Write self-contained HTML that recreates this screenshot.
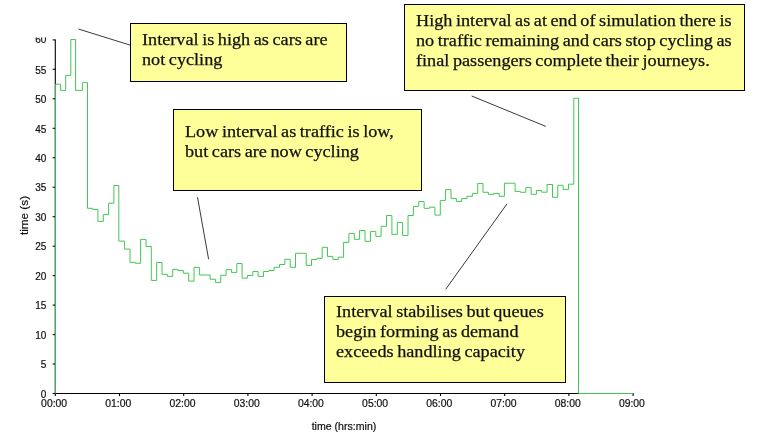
<!DOCTYPE html>
<html><head><meta charset="utf-8"><title>Interval chart</title>
<style>
html,body{margin:0;padding:0;background:#fff;}
body{width:765px;height:442px;position:relative;overflow:hidden;font-family:"Liberation Serif",serif;}
svg{position:absolute;left:0;top:0;}
svg text{font-family:"Liberation Sans",sans-serif;fill:#111;stroke:#111;stroke-width:0.2px;}
.ax{font-size:10px;}
.ay{font-size:10px;}
.xt{font-size:10px;}
.yt{font-size:10.5px;}
.box{position:absolute;box-sizing:border-box;background:#ffff99;border:1.2px solid #000;color:#111;font-size:16.5px;word-spacing:-0.9px;line-height:20px;white-space:nowrap;-webkit-text-stroke:0.25px #111;}
.box span{position:absolute;left:0;top:0;display:block;transform-origin:0 0;transform:scaleX(1.103);}
</style></head><body>
<svg width="765" height="442" viewBox="0 0 765 442">
<path d="M55.3,39.4 L55.3,393.5 L633.6,393.5" fill="none" stroke="#000" stroke-width="1.1"/>
<line x1="55.3" y1="393.5" x2="55.3" y2="396.1" stroke="#000" stroke-width="1.1"/>
<line x1="119.5" y1="393.5" x2="119.5" y2="396.1" stroke="#000" stroke-width="1.1"/>
<line x1="183.7" y1="393.5" x2="183.7" y2="396.1" stroke="#000" stroke-width="1.1"/>
<line x1="247.9" y1="393.5" x2="247.9" y2="396.1" stroke="#000" stroke-width="1.1"/>
<line x1="312.1" y1="393.5" x2="312.1" y2="396.1" stroke="#000" stroke-width="1.1"/>
<line x1="376.3" y1="393.5" x2="376.3" y2="396.1" stroke="#000" stroke-width="1.1"/>
<line x1="440.5" y1="393.5" x2="440.5" y2="396.1" stroke="#000" stroke-width="1.1"/>
<line x1="504.7" y1="393.5" x2="504.7" y2="396.1" stroke="#000" stroke-width="1.1"/>
<line x1="568.9" y1="393.5" x2="568.9" y2="396.1" stroke="#000" stroke-width="1.1"/>
<line x1="633.1" y1="393.5" x2="633.1" y2="396.1" stroke="#000" stroke-width="1.1"/>
<line x1="52.699999999999996" y1="393.5" x2="55.3" y2="393.5" stroke="#000" stroke-width="1.1"/>
<line x1="52.699999999999996" y1="364.0" x2="55.3" y2="364.0" stroke="#000" stroke-width="1.1"/>
<line x1="52.699999999999996" y1="334.6" x2="55.3" y2="334.6" stroke="#000" stroke-width="1.1"/>
<line x1="52.699999999999996" y1="305.1" x2="55.3" y2="305.1" stroke="#000" stroke-width="1.1"/>
<line x1="52.699999999999996" y1="275.6" x2="55.3" y2="275.6" stroke="#000" stroke-width="1.1"/>
<line x1="52.699999999999996" y1="246.2" x2="55.3" y2="246.2" stroke="#000" stroke-width="1.1"/>
<line x1="52.699999999999996" y1="216.7" x2="55.3" y2="216.7" stroke="#000" stroke-width="1.1"/>
<line x1="52.699999999999996" y1="187.2" x2="55.3" y2="187.2" stroke="#000" stroke-width="1.1"/>
<line x1="52.699999999999996" y1="157.7" x2="55.3" y2="157.7" stroke="#000" stroke-width="1.1"/>
<line x1="52.699999999999996" y1="128.3" x2="55.3" y2="128.3" stroke="#000" stroke-width="1.1"/>
<line x1="52.699999999999996" y1="98.8" x2="55.3" y2="98.8" stroke="#000" stroke-width="1.1"/>
<line x1="52.699999999999996" y1="69.3" x2="55.3" y2="69.3" stroke="#000" stroke-width="1.1"/>
<line x1="52.699999999999996" y1="39.9" x2="55.3" y2="39.9" stroke="#000" stroke-width="1.1"/>
<text class="ax" transform="translate(54.1,406.8) scale(1.04,1)" text-anchor="middle">00:00</text>
<text class="ax" transform="translate(118.3,406.8) scale(1.04,1)" text-anchor="middle">01:00</text>
<text class="ax" transform="translate(182.5,406.8) scale(1.04,1)" text-anchor="middle">02:00</text>
<text class="ax" transform="translate(246.7,406.8) scale(1.04,1)" text-anchor="middle">03:00</text>
<text class="ax" transform="translate(310.9,406.8) scale(1.04,1)" text-anchor="middle">04:00</text>
<text class="ax" transform="translate(375.1,406.8) scale(1.04,1)" text-anchor="middle">05:00</text>
<text class="ax" transform="translate(439.3,406.8) scale(1.04,1)" text-anchor="middle">06:00</text>
<text class="ax" transform="translate(503.5,406.8) scale(1.04,1)" text-anchor="middle">07:00</text>
<text class="ax" transform="translate(567.7,406.8) scale(1.04,1)" text-anchor="middle">08:00</text>
<text class="ax" transform="translate(631.9,406.8) scale(1.04,1)" text-anchor="middle">09:00</text>
<text class="ay" transform="translate(46.4,397.7)" text-anchor="end">0</text>
<text class="ay" transform="translate(46.4,368.2)" text-anchor="end">5</text>
<text class="ay" transform="translate(46.4,338.8)" text-anchor="end">10</text>
<text class="ay" transform="translate(46.4,309.3)" text-anchor="end">15</text>
<text class="ay" transform="translate(46.4,279.8)" text-anchor="end">20</text>
<text class="ay" transform="translate(46.4,250.3)" text-anchor="end">25</text>
<text class="ay" transform="translate(46.4,220.9)" text-anchor="end">30</text>
<text class="ay" transform="translate(46.4,191.4)" text-anchor="end">35</text>
<text class="ay" transform="translate(46.4,161.9)" text-anchor="end">40</text>
<text class="ay" transform="translate(46.4,132.5)" text-anchor="end">45</text>
<text class="ay" transform="translate(46.4,103.0)" text-anchor="end">50</text>
<text class="ay" transform="translate(46.4,73.5)" text-anchor="end">55</text>
<text class="ay" transform="translate(46.4,43.2)" text-anchor="end">60</text>
<path d="M55.4,393.5 L55.4,84.2 L60.6,84.2 L60.6,90.4 L65.7,90.4 L65.7,75.4 L70.8,75.4 L70.8,39.5 L75.6,39.5 L75.6,90.4 L82.4,90.4 L82.4,82.6 L87.5,82.6 L87.5,208.3 L92.6,208.3 L92.6,209.4 L97.9,209.4 L97.9,221.4 L103.3,221.4 L103.3,214.6 L108.6,214.6 L108.6,203.2 L113.9,203.2 L113.9,185.5 L118.8,185.5 L118.8,241.1 L124.6,241.1 L124.6,249.1 L130.0,249.1 L130.0,262.4 L135.3,262.4 L135.3,263.3 L140.6,263.3 L140.6,239.4 L146.0,239.4 L146.0,246.5 L151.3,246.5 L151.3,280.4 L156.7,280.4 L156.7,262.5 L162.0,262.5 L162.0,274.3 L167.3,274.3 L167.3,276.4 L172.7,276.4 L172.7,269.4 L178.0,269.4 L178.0,270.5 L183.4,270.5 L183.4,273.2 L188.7,273.2 L188.7,281.1 L194.0,281.1 L194.0,267.3 L199.4,267.3 L199.4,275.0 L204.7,275.0 L204.7,275.0 L210.1,275.0 L210.1,279.2 L215.4,279.2 L215.4,282.4 L220.7,282.4 L220.7,275.3 L226.1,275.3 L226.1,269.6 L231.4,269.6 L231.4,272.4 L236.8,272.4 L236.8,263.5 L242.1,263.5 L242.1,278.1 L247.4,278.1 L247.4,275.5 L252.8,275.5 L252.8,271.5 L258.1,271.5 L258.1,276.4 L263.5,276.4 L263.5,271.5 L268.8,271.5 L268.8,270.5 L274.1,270.5 L274.1,267.3 L279.5,267.3 L279.5,264.5 L284.8,264.5 L284.8,259.3 L290.2,259.3 L290.2,267.3 L295.5,267.3 L295.5,253.3 L300.8,253.3 L300.8,253.3 L306.2,253.3 L306.2,265.4 L311.5,265.4 L311.5,259.5 L316.9,259.5 L316.9,258.3 L322.2,258.3 L322.2,247.3 L327.5,247.3 L327.5,256.4 L332.9,256.4 L332.9,259.5 L338.2,259.5 L338.2,257.2 L343.6,257.2 L343.6,242.4 L348.9,242.4 L348.9,233.4 L354.3,233.4 L354.3,239.3 L359.6,239.3 L359.6,230.5 L365.0,230.5 L365.0,241.3 L370.4,241.3 L370.4,231.4 L375.8,231.4 L375.8,236.4 L381.1,236.4 L381.1,226.3 L386.5,226.3 L386.5,215.5 L391.9,215.5 L391.9,234.4 L397.3,234.4 L397.3,222.4 L402.6,222.4 L402.6,235.4 L408.0,235.4 L408.0,215.5 L413.4,215.5 L413.4,206.4 L418.8,206.4 L418.8,201.5 L424.1,201.5 L424.1,208.3 L429.5,208.3 L429.5,207.2 L434.9,207.2 L434.9,215.1 L440.3,215.1 L440.3,200.4 L445.6,200.4 L445.6,189.6 L451.0,189.6 L451.0,198.4 L456.3,198.4 L456.3,201.4 L461.7,201.4 L461.7,198.6 L467.0,198.6 L467.0,196.3 L472.4,196.3 L472.4,193.4 L477.7,193.4 L477.7,183.4 L483.0,183.4 L483.0,192.3 L488.4,192.3 L488.4,194.4 L493.7,194.4 L493.7,193.4 L499.1,193.4 L499.1,196.3 L504.4,196.3 L504.4,183.2 L509.7,183.2 L509.7,183.2 L515.1,183.2 L515.1,191.4 L520.4,191.4 L520.4,192.3 L525.8,192.3 L525.8,187.4 L531.1,187.4 L531.1,194.3 L536.4,194.3 L536.4,190.5 L541.8,190.5 L541.8,192.2 L547.1,192.2 L547.1,184.5 L552.5,184.5 L552.5,197.3 L557.8,197.3 L557.8,185.3 L563.1,185.3 L563.1,189.4 L568.5,189.4 L568.5,184.2 L573.8,184.2 L573.8,98.2 L578.5,98.2 L578.5,393.5 L633.2,393.5" fill="none" stroke="#44c654" stroke-width="1" stroke-linejoin="miter"/>
<text class="xt" transform="translate(344,430) scale(1.06,1)" text-anchor="middle">time (hrs:min)</text>
<text class="yt" transform="translate(28.1,215.5) rotate(-90) scale(1.12,1)" text-anchor="middle">time (s)</text>
<rect x="30" y="30" width="20" height="7.4" fill="#fff"/>
<line x1="78.4" y1="29" x2="130.4" y2="45.2" stroke="#222" stroke-width="0.9"/>
<line x1="197.5" y1="197.3" x2="208.6" y2="259.2" stroke="#222" stroke-width="0.9"/>
<line x1="471.7" y1="96" x2="545.8" y2="126.4" stroke="#222" stroke-width="0.9"/>
<line x1="507" y1="203.8" x2="445.7" y2="289.3" stroke="#222" stroke-width="0.9"/>
</svg>
<div class="box" style="left:130.2px;top:23px;width:216.4px;height:58.5px;"><span style="left:10.6px;top:5.8px;">Interval is high as cars are<br>not cycling</span></div>
<div class="box" style="left:173px;top:109px;width:249.3px;height:81.8px;"><span style="left:11.1px;top:11.8px;">Low interval as traffic is low,<br>but cars are now cycling</span></div>
<div class="box" style="left:404px;top:4.2px;width:340.7px;height:87.3px;"><span style="left:10.9px;top:5.8px;">High interval as at end of simulation there is<br>no traffic remaining and cars stop cycling as<br>final passengers complete their journeys.</span></div>
<div class="box" style="left:324px;top:295.8px;width:242.4px;height:86.9px;"><span style="left:11.1px;top:4.9px;">Interval stabilises but queues<br>begin forming as demand<br>exceeds handling capacity</span></div>
</body></html>
